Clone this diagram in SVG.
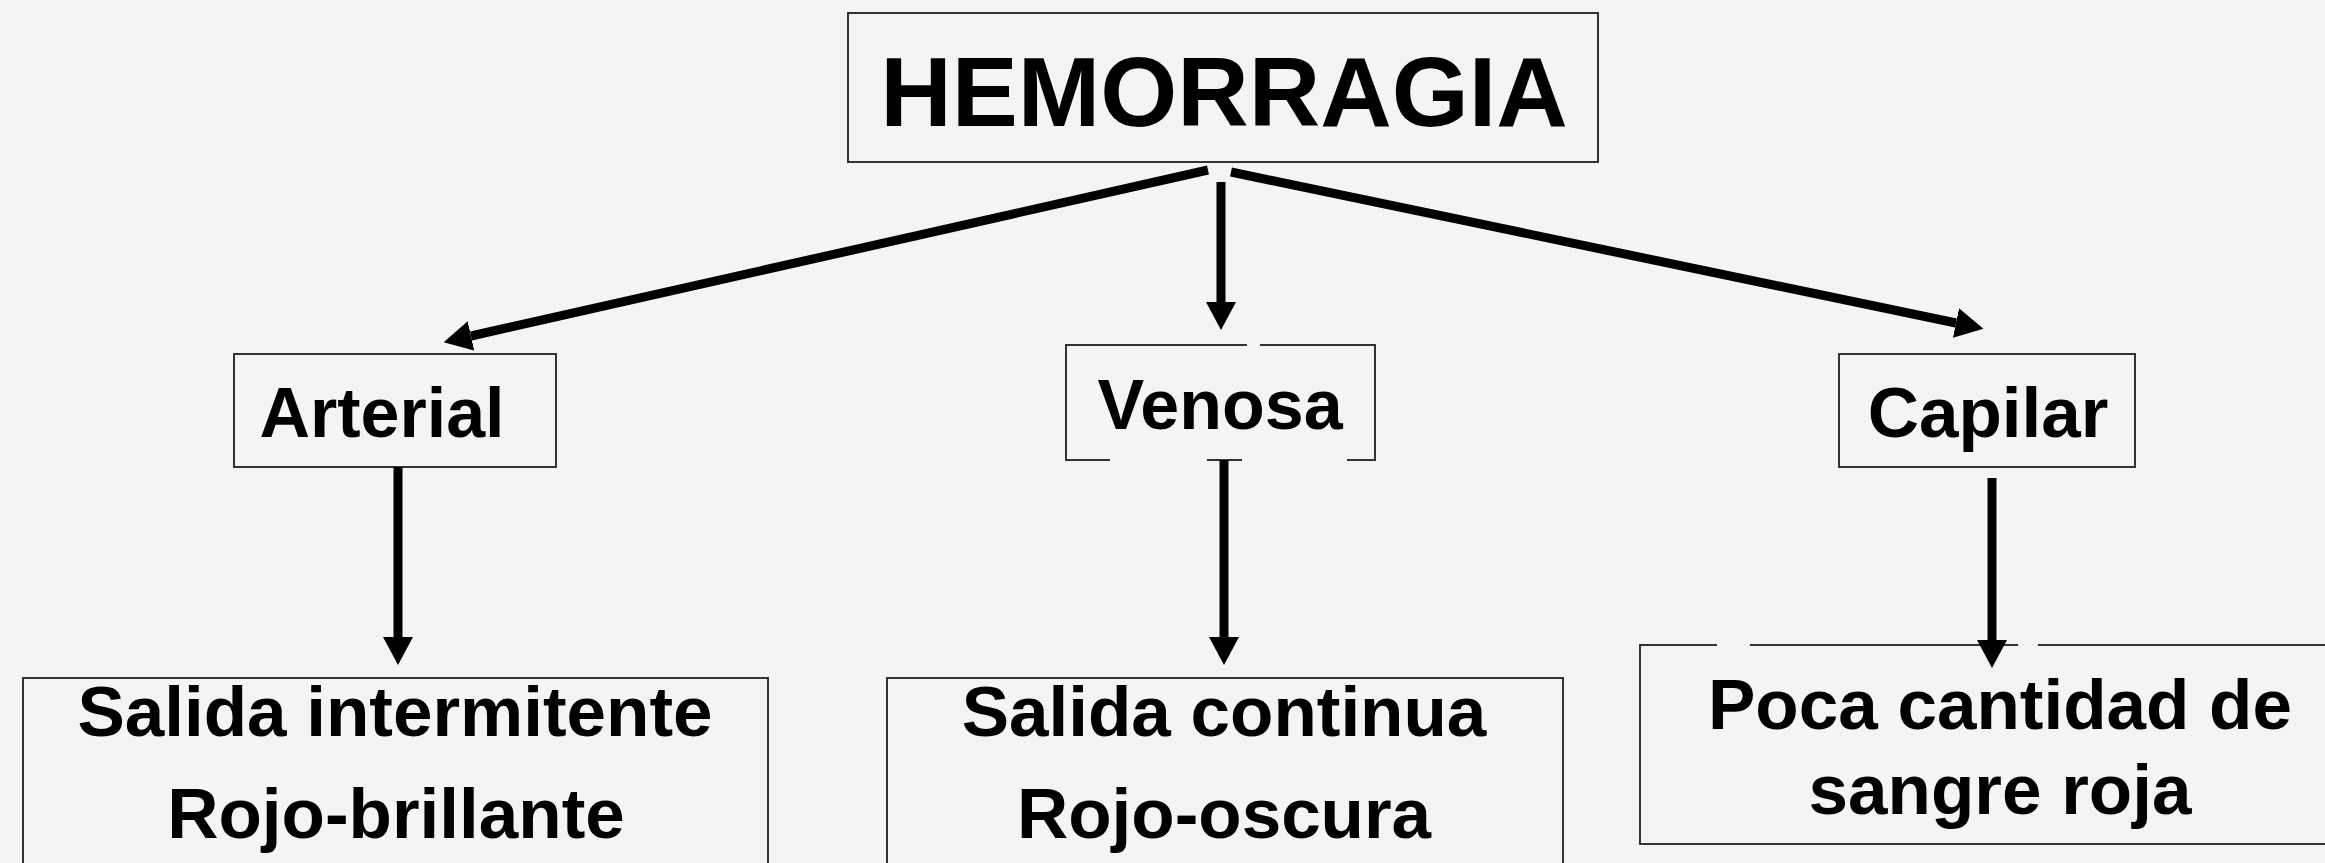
<svg xmlns="http://www.w3.org/2000/svg" width="2325" height="863" viewBox="0 0 2325 863">
  <style>
    .box { fill: none; stroke: #333333; stroke-width: 2; }
    .lbl { font-family: "Liberation Sans", Arial, sans-serif; font-weight: bold; fill: #000000; text-anchor: middle; }
    .conn { stroke: #000000; stroke-width: 9; fill: none; marker-end: url(#arrow); }
  </style>
  <defs>
    <marker id="arrow" markerUnits="userSpaceOnUse" markerWidth="30" markerHeight="32" viewBox="0 -16 30 32" refX="0" refY="0" orient="auto">
      <path d="M0,-15 L28,0 L0,15 Z" fill="#000000"/>
    </marker>
  </defs>
  <rect x="0" y="0" width="2325" height="863" fill="#f4f4f4"/>

  <g id="hemorragia">
    <rect class="box" x="848" y="13" width="750" height="149"/>
    <text class="lbl" x="1224" y="126" font-size="99">HEMORRAGIA</text>
  </g>

  <g id="arterial">
    <rect class="box" x="234" y="354" width="322" height="113"/>
    <text class="lbl" x="382" y="437" font-size="70">Arterial</text>
  </g>

  <g id="venosa">
    <path class="box" d="M1110,460 H1066 V345 H1247 M1260,345 H1375 V460 H1347 M1242,460 H1207"/>
    <text class="lbl" x="1220" y="429" font-size="70">Venosa</text>
  </g>

  <g id="capilar">
    <rect class="box" x="1839" y="354" width="296" height="113"/>
    <text class="lbl" x="1988" y="437" font-size="71">Capilar</text>
  </g>

  <g id="arterial-desc">
    <rect class="box" x="23" y="678" width="745" height="200"/>
    <text class="lbl" x="395" y="736" font-size="71">Salida intermitente</text>
    <text class="lbl" x="396" y="838" font-size="71">Rojo-brillante</text>
  </g>

  <g id="venosa-desc">
    <rect class="box" x="887" y="678" width="676" height="200"/>
    <text class="lbl" x="1224" y="736" font-size="71">Salida continua</text>
    <text class="lbl" x="1224" y="838" font-size="71">Rojo-oscura</text>
  </g>

  <g id="capilar-desc">
    <path class="box" d="M1717,645 H1640 V844 H2330 M2330,645 H2038 M2018,645 H1750"/>
    <text class="lbl" x="2000" y="729" font-size="71">Poca cantidad de</text>
    <text class="lbl" x="2000" y="814" font-size="71">sangre roja</text>
  </g>

  <g id="connectors">
    <path class="conn" d="M1208,170 L471,336"/>
    <path class="conn" d="M1221,182 L1221,302"/>
    <path class="conn" d="M1231,172 L1956,323"/>
    <path class="conn" d="M398,467 L398,637"/>
    <path class="conn" d="M1224,460 L1224,637"/>
    <path class="conn" d="M1992,478 L1992,640"/>
  </g>
</svg>
